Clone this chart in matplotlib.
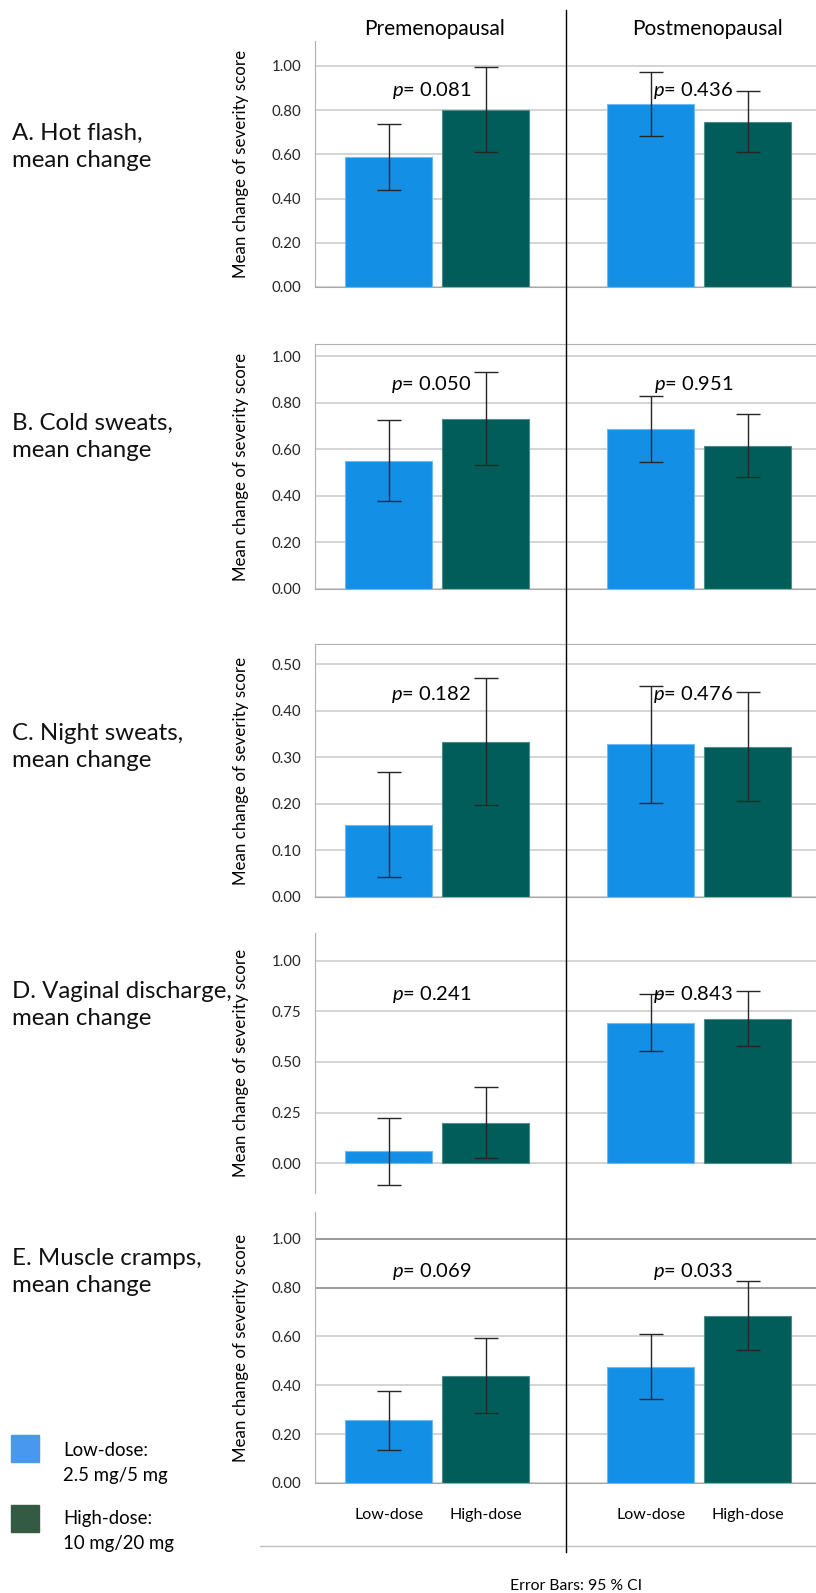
import matplotlib
matplotlib.use("Agg")
import matplotlib.pyplot as plt
from matplotlib.lines import Line2D
from matplotlib.patches import Rectangle
import numpy as np

plt.rcParams['font.family'] = ['Lato', 'DejaVu Sans']
plt.rcParams['mathtext.fontset'] = 'custom'
plt.rcParams['mathtext.rm'] = 'Lato'
plt.rcParams['mathtext.it'] = 'Lato:italic'

# data (rows = panels A..E, columns = premenopausal, postmenopausal)
panel_titles = ["A. Hot flash,\nmean change",
                "B. Cold sweats,\nmean change",
                "C. Night sweats,\nmean change",
                "D. Vaginal discharge,\nmean change",
                "E. Muscle cramps,\nmean change"]
groups = ["Premenopausal", "Postmenopausal"]
dose_labels = ["Low-dose", "High-dose"]

low_mean = [[0.587, 0.826], [0.551, 0.686], [0.155, 0.328], [0.058, 0.694], [0.257, 0.475]]
low_lo = [[0.437, 0.682], [0.379, 0.544], [0.042, 0.202], [-0.107, 0.554], [0.137, 0.344]]
low_hi = [[0.736, 0.973], [0.725, 0.828], [0.269, 0.453], [0.222, 0.834], [0.378, 0.609]]

high_mean = [[0.802, 0.745], [0.731, 0.615], [0.333, 0.322], [0.200, 0.713], [0.438, 0.685]]
high_lo = [[0.609, 0.609], [0.531, 0.481], [0.197, 0.206], [0.026, 0.579], [0.285, 0.546]]
high_hi = [[0.994, 0.887], [0.933, 0.750], [0.471, 0.439], [0.375, 0.852], [0.592, 0.826]]

p_pre = ["0.081", "0.050", "0.182", "0.241", "0.069"]
p_post = ["0.436", "0.951", "0.476", "0.843", "0.033"]

yticks = [[0, 0.2, 0.4, 0.6, 0.8, 1.0],
          [0, 0.2, 0.4, 0.6, 0.8, 1.0],
          [0, 0.1, 0.2, 0.3, 0.4, 0.5],
          [0, 0.25, 0.5, 0.75, 1.0],
          [0, 0.2, 0.4, 0.6, 0.8, 1.0]]
ylims = [(0, 1.113), (0, 1.053), (0, 0.543), (-0.147, 1.136), (0, 1.109)]

# layout in pixels
W, H = 816, 1593
ax_left = 315
ax_top = [41, 344, 644, 933, 1212]
ax_bot = [287, 589, 897, 1193, 1483]
ptext_y = [0.80, 0.835, 0.80, 0.765, 0.78]
label_y = [147, 437, 747, 1005, 1272]
top_line = [False, True, True, False, False]

blue = '#1390E6'
teal = '#005D5A'

fig = plt.figure(figsize=(W / 100, H / 100), dpi=100)

x = np.arange(2)
xl = (-0.466, 1.446)
off = 0.1847
bw = 0.331

for i in range(5):
    ax = fig.add_axes([ax_left / W, 1 - ax_bot[i] / H, (W - ax_left) / W, (ax_bot[i] - ax_top[i]) / H])
    ax.set_xlim(xl)
    ax.set_ylim(ylims[i])
    for t in yticks[i]:
        c = '#d4d4d4'
        if i == 4 and t in (0.8, 1.0):
            c = '#9a9a9a'
        ax.axhline(t, color=c, lw=1.4, zorder=0)
    lm = np.array(low_mean[i])
    hm = np.array(high_mean[i])
    ax.bar(x - off, lm, bw, color=blue, edgecolor='#6fb9f0', lw=0.8, zorder=2)
    ax.bar(x + off, hm, bw, color=teal, edgecolor='#4d8c88', lw=0.8, zorder=2)
    ax.errorbar(x - off, lm, yerr=[lm - np.array(low_lo[i]), np.array(low_hi[i]) - lm],
                fmt='none', ecolor='#262626', elinewidth=1, capsize=8.7, capthick=1, zorder=3)
    ax.errorbar(x + off, hm, yerr=[hm - np.array(high_lo[i]), np.array(high_hi[i]) - hm],
                fmt='none', ecolor='#262626', elinewidth=1, capsize=8.7, capthick=1, zorder=3)
    yp = ptext_y[i] * (ylims[i][1] - ylims[i][0]) + ylims[i][0]
    ax.text(0 - 0.022, yp, r'$\mathit{p}$= ' + p_pre[i], ha='center', va='center', fontsize=14.5, zorder=4)
    ax.text(1 - 0.022, yp, r'$\mathit{p}$= ' + p_post[i], ha='center', va='center', fontsize=14.5, zorder=4)

    ax.set_yticks(yticks[i])
    ax.set_yticklabels(['%.2f' % t for t in yticks[i]])
    ax.tick_params(axis='y', length=0, pad=10, labelsize=10.8, labelcolor='#262626')
    ax.set_ylabel("Mean change of severity score", fontsize=12.2)
    ax.yaxis.set_label_coords(-0.131, 0.5)

    ax.spines['right'].set_visible(False)
    ax.spines['top'].set_visible(top_line[i])
    ax.spines['top'].set_color('#b0b0b0')
    ax.spines['left'].set_color('#b0b0b0')
    ax.spines['bottom'].set_color('#a8a8a8')
    if i == 3:
        ax.spines['bottom'].set_visible(False)

    if i == 4:
        ax.set_xticks([x[0] - off, x[0] + off, x[1] - off, x[1] + off])
        ax.set_xticklabels(dose_labels * 2)
        ax.tick_params(axis='x', length=0, pad=18, labelsize=11.5)
    else:
        ax.set_xticks([])

    fig.text(12 / W, 1 - label_y[i] / H, panel_titles[i], ha='left', va='center',
             fontsize=17.3, linespacing=1.35, color='#111111')

# column headers
fig.text(435 / W, 1 - 29 / H, groups[0], ha='center', va='center', fontsize=15)
fig.text(707 / W, 1 - 29 / H, groups[1], ha='center', va='center', fontsize=15)

# vertical divider and bottom frame line
fig.add_artist(Line2D([566 / W, 566 / W], [1 - 10 / H, 1 - 1552 / H], color='black', lw=1, zorder=5))
fig.add_artist(Line2D([260 / W, 1], [1 - 1546 / H, 1 - 1546 / H], color='#c0c0c0', lw=1))

# legend
fig.add_artist(Rectangle((11 / W, 1 - 1462 / H), 28 / W, 27 / H, transform=fig.transFigure,
                         color='#4898EF'))
fig.add_artist(Rectangle((11 / W, 1 - 1532 / H), 28 / W, 27 / H, transform=fig.transFigure,
                         color='#335B43'))
fig.text(63 / W, 1 - 1463 / H, "Low-dose:\n2.5 mg/5 mg", ha='left', va='center',
         fontsize=13.4, linespacing=1.55)
fig.text(63 / W, 1 - 1531 / H, "High-dose:\n10 mg/20 mg", ha='left', va='center',
         fontsize=13.4, linespacing=1.55)

fig.text(576 / W, 1 - 1586 / H, "Error Bars: 95 % CI", ha='center', va='center', fontsize=11.3)

fig.savefig("out.png", dpi=100)
